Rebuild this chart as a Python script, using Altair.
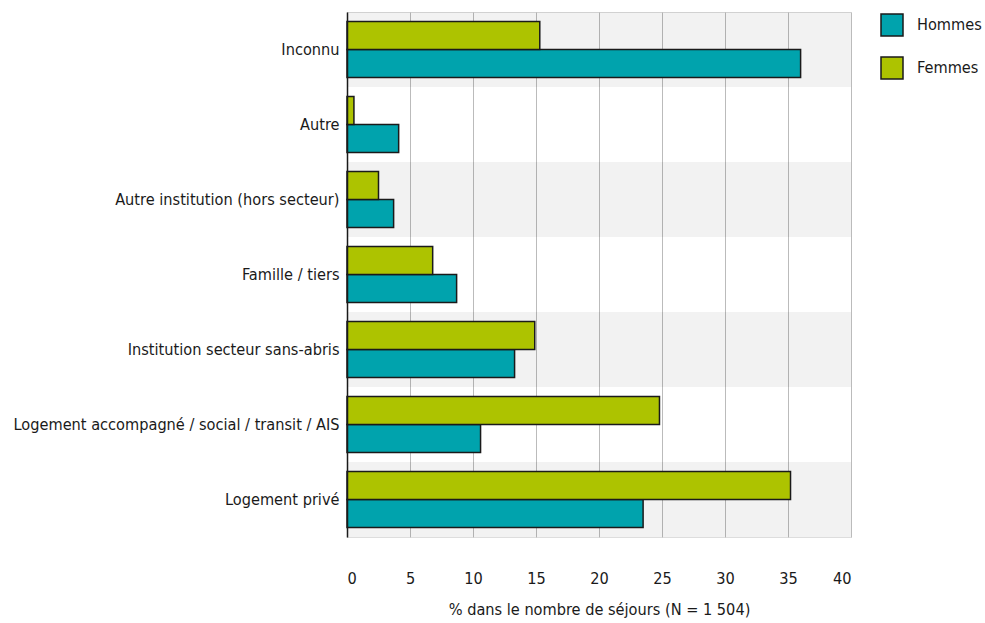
import altair as alt
import pandas as pd

categories = [
    "Inconnu",
    "Autre",
    "Autre institution (hors secteur)",
    "Famille / tiers",
    "Institution secteur sans-abris",
    "Logement accompagné / social / transit / AIS",
    "Logement privé",
]
hommes = [36.0, 4.1, 3.7, 8.7, 13.3, 10.6, 23.5]
femmes = [15.3, 0.55, 2.5, 6.8, 14.9, 24.8, 35.2]
series = ["Hommes", "Femmes"]
colors = ["#00a3ad", "#adc300"]

FONT = "DejaVu Sans Condensed, Roboto, sans-serif"
FS = 16.2

rows = []
for cat, h, f in zip(categories, hommes, femmes):
    rows.append({"cat": cat, "sexe": "Hommes", "val": h})
    rows.append({"cat": cat, "sexe": "Femmes", "val": f})
df = pd.DataFrame(rows)

stripes = pd.DataFrame({"cat": categories[::2], "x0": 0, "x1": 40})

y_enc = alt.Y(
    "cat:N",
    sort=categories,
    scale=alt.Scale(paddingInner=0, paddingOuter=0),
    axis=alt.Axis(
        title=None,
        ticks=False,
        domain=True,
        domainColor="#1a1a1a",
        domainWidth=1.5,
        labelFont=FONT,
        labelFontSize=FS,
        labelColor="#1a1a1a",
        labelPadding=8,
        labelLimit=400,
    ),
)

x_scale = alt.Scale(domain=[0, 40], nice=False)

# alternating grey row bands (semi-transparent so the grid shows through)
bands = (
    alt.Chart(stripes)
    .mark_rect(color="#000000", opacity=0.051)
    .encode(
        y=y_enc,
        x=alt.X("x0:Q", scale=x_scale),
        x2="x1:Q",
    )
)

bars = (
    alt.Chart(df)
    .mark_bar(stroke="#1a1a1a", strokeWidth=1.5)
    .encode(
        y=y_enc,
        yOffset=alt.YOffset(
            "sexe:N",
            sort=["Femmes", "Hommes"],
            scale=alt.Scale(paddingInner=0, paddingOuter=0.34),
        ),
        x=alt.X(
            "val:Q",
            scale=x_scale,
            axis=alt.Axis(
                title="% dans le nombre de séjours (N = 1 504)",
                values=[0, 5, 10, 15, 20, 25, 30, 35, 40],
                grid=True,
                gridColor="#bbbbbb",
                gridWidth=1,
                domain=False,
                ticks=False,
                labelFont=FONT,
                labelFontSize=FS,
                labelColor="#1a1a1a",
                labelPadding=33,
                titleFont=FONT,
                titleFontSize=FS,
                titleFontWeight="normal",
                titleColor="#1a1a1a",
                titlePadding=15,
            ),
        ),
        fill=alt.Fill(
            "sexe:N",
            scale=alt.Scale(domain=series, range=colors),
            legend=alt.Legend(
                title=None,
                orient="none",
                legendX=533,
                legendY=1,
                symbolType="square",
                symbolSize=484,
                symbolStrokeColor="#1a1a1a",
                symbolStrokeWidth=1.5,
                symbolOpacity=1,
                rowPadding=15,
                labelFont=FONT,
                labelFontSize=FS,
                labelColor="#1a1a1a",
                labelOffset=13,
                padding=0,
            ),
        ),
    )
)

chart = (
    alt.layer(bands, bars)
    .properties(
        width=504,
        height=525,
        autosize=alt.AutoSizeParams(type="none"),
        padding={"left": 347, "top": 12, "right": 134, "bottom": 86},
    )
    .configure_view(stroke=None)
    .configure(background="white")
)

chart.save("out.html", embed_options={"renderer": "svg", "actions": False})
